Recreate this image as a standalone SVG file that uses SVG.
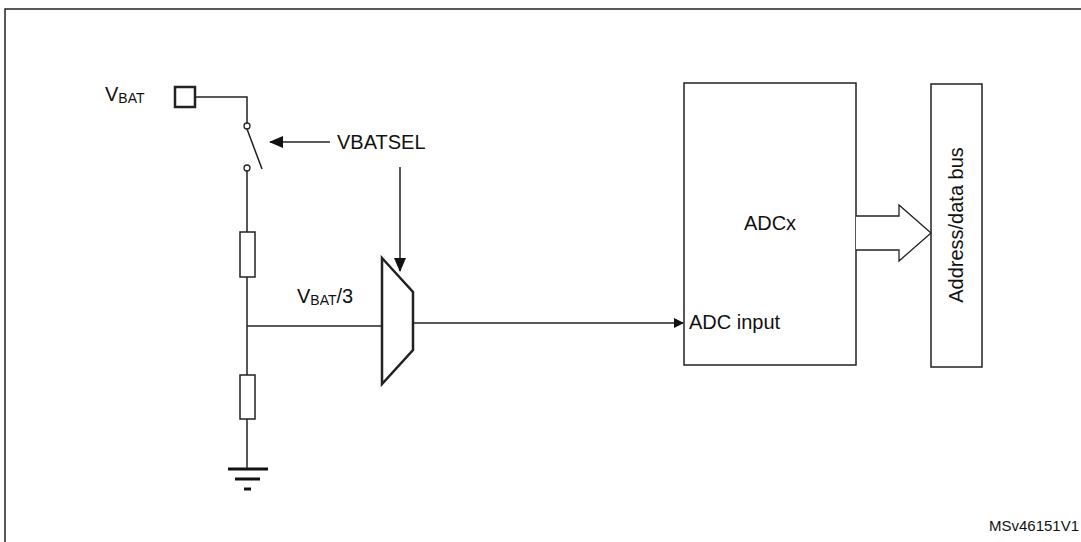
<svg xmlns="http://www.w3.org/2000/svg" width="1081" height="542" viewBox="0 0 1081 542">
<style>
.w{stroke:#222;stroke-width:1.5;fill:none}
.b{stroke:#222;stroke-width:2.5;fill:#fff}
.t{font-family:"Liberation Sans",Arial,sans-serif;font-size:20px;fill:#111}
</style>
<defs>
<marker id="ah" markerWidth="10" markerHeight="10" refX="9" refY="5" orient="auto" markerUnits="userSpaceOnUse" viewBox="0 0 10 10">
<path d="M0,0 L10,5 L0,10 Z" fill="#111"/>
</marker>
<marker id="ah2" markerWidth="14" markerHeight="12" refX="13" refY="6" orient="auto" markerUnits="userSpaceOnUse" viewBox="0 0 14 12">
<path d="M0,0 L14,6 L0,12 Z" fill="#111"/>
</marker>
</defs>
<rect x="5" y="9" width="1090" height="550" fill="none" stroke="#222" stroke-width="1.5"/>
<g id="vbat-pin">
<rect x="175" y="87" width="20" height="20" class="b" fill="none"/>
<text x="105" y="101" class="t">V<tspan font-size="14" dy="2">BAT</tspan></text>
</g>
<g id="switch">
<circle cx="247" cy="126" r="3" fill="#fff" stroke="#222" stroke-width="1.3"/>
<circle cx="247" cy="168" r="3" fill="#fff" stroke="#222" stroke-width="1.3"/>
<line x1="247" y1="129" x2="262" y2="169" class="w"/>
</g>
<g id="r1"><rect x="240" y="232" width="15" height="45" class="w" fill="#fff"/></g>
<g id="r2"><rect x="240" y="375" width="15" height="44" class="w" fill="#fff"/></g>
<g id="gnd">
<line x1="228" y1="469" x2="268" y2="469" stroke="#111" stroke-width="3"/>
<line x1="235" y1="479" x2="260" y2="479" stroke="#111" stroke-width="3"/>
<line x1="244" y1="489" x2="251" y2="489" stroke="#111" stroke-width="3"/>
</g>
<g id="mux"><path d="M382,258 L413,292 L413,350 L382,384 Z" class="b"/></g>
<g id="vbatsel"><text x="337" y="149" class="t">VBATSEL</text></g>
<g id="adcx">
<rect x="684" y="83" width="172" height="282" class="w" stroke-width="2" fill="#fff"/>
<text x="770" y="230" class="t" text-anchor="middle">ADCx</text>
<text x="689" y="329" class="t">ADC input</text>
</g>
<g id="bus">
<rect x="931" y="84" width="51" height="283" class="w" stroke-width="2.5" fill="#fff"/>
<text transform="translate(963,225) rotate(-90)" class="t" text-anchor="middle">Address/data bus</text>
</g>
<g id="connectors">
<path d="M195,97 H247 V123" class="w"/>
<path d="M247,171 V232 M247,277 V375 M247,419 V469" class="w"/>
<line x1="330" y1="142" x2="270" y2="142" class="w" marker-end="url(#ah2)"/>
<line x1="400" y1="167" x2="400" y2="271" class="w" marker-end="url(#ah2)"/>
<line x1="247" y1="326" x2="382" y2="326" class="w"/>
<line x1="413" y1="323" x2="683" y2="323" class="w" marker-end="url(#ah)"/>
<path d="M856,216 H899 V205 L931,233 L899,261 V250 H856" fill="#fff" stroke="#222" stroke-width="1.3"/>
</g>
<text x="297" y="303" class="t">V<tspan font-size="14" dy="2">BAT</tspan><tspan dy="-2">/3</tspan></text>
<text x="989" y="531" class="t" font-size="15" style="font-size:15px">MSv46151V1</text>
</svg>
